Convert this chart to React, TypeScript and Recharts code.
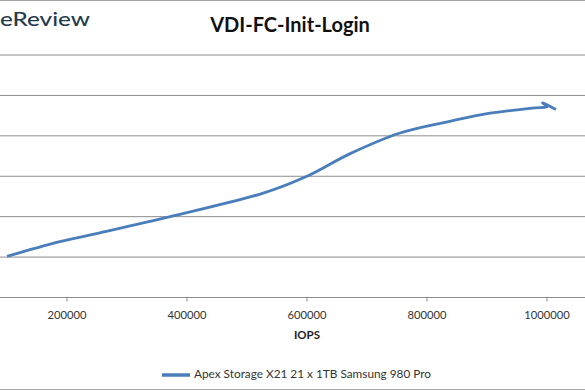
import React from 'react';
import { LineChart, Line, XAxis, YAxis, CartesianGrid, Legend } from 'recharts';

const SERIES_NAME = 'Apex Storage X21 21 x 1TB Samsung 980 Pro';
const iops = [100000, 188000, 255000, 372000, 522000, 600000, 672000, 755000, 838000, 905000, 980000, 1000000, 993000, 1015000];
const latency = [0.51, 0.69, 0.8, 1.0, 1.28, 1.5, 1.78, 2.035, 2.18, 2.28, 2.346, 2.358, 2.407, 2.327];
const xTicks = [200000, 400000, 600000, 800000, 1000000];
const yTicks = [0, 0.5, 1, 1.5, 2, 2.5, 3];

const data = iops.map((x, i) => ({ iops: x, latency: latency[i] }));

// Catmull-Rom style smoothing (similar to Excel's smoothed line)
const smoothCurve: any = (context: any) => {
  let pts: [number, number][] = [];
  return {
    areaStart() {},
    areaEnd() {},
    lineStart() {
      pts = [];
    },
    lineEnd() {
      const n = pts.length;
      if (!n) return;
      context.moveTo(pts[0][0], pts[0][1]);
      for (let i = 0; i < n - 1; i++) {
        const p0 = pts[Math.max(i - 1, 0)];
        const p1 = pts[i];
        const p2 = pts[i + 1];
        const p3 = pts[Math.min(i + 2, n - 1)];
        const t = 6;
        context.bezierCurveTo(
          p1[0] + (p2[0] - p0[0]) / t,
          p1[1] + (p2[1] - p0[1]) / t,
          p2[0] - (p3[0] - p1[0]) / t,
          p2[1] - (p3[1] - p1[1]) / t,
          p2[0],
          p2[1]
        );
      }
    },
    point(x: number, y: number) {
      pts.push([+x, +y]);
    },
  };
};

const FONT = 'Lato, "Open Sans", sans-serif';

export default function App() {
  return (
    <div
      style={{
        position: 'absolute',
        left: 0,
        top: 0,
        width: 585,
        height: 390,
        overflow: 'hidden',
        background: '#fff',
        fontFamily: FONT,
      }}
    >
      <div style={{ position: 'absolute', left: -53, top: 0 }}>
        <LineChart
          width={720}
          height={390}
          data={data}
          margin={{ top: 55, right: 0, bottom: 47.5, left: 0 }}
        >
          <CartesianGrid vertical={false} stroke="#8c8c8c" strokeWidth={1} />
          <XAxis
            dataKey="iops"
            type="number"
            domain={[0, 1200000]}
            ticks={xTicks}
            height={45}
            tickSize={4}
            tickMargin={9.5}
            stroke="#8c8c8c"
            tick={{ fill: '#333', fontSize: 11.2, fontFamily: FONT }}
            label={{
              value: 'IOPS',
              position: 'insideBottom',
              offset: 4,
              style: { fill: '#222', fontSize: 11.5, fontWeight: 700, fontFamily: FONT },
            }}
          />
          <YAxis type="number" domain={[0, 3]} ticks={yTicks} hide />
          <Legend
            verticalAlign="bottom"
            iconSize={28}
            wrapperStyle={{
              position: 'absolute',
              top: 361,
              bottom: 'auto',
              left: 62,
              width: 585,
              height: 0,
              fontSize: 11.8,
              fontFamily: FONT,
              color: '#333',
            }}
            formatter={(v: string) => <span style={{ color: '#333' }}>{v}</span>}
          />
          <Line
            name={SERIES_NAME}
            dataKey="latency"
            type={smoothCurve}
            stroke="#4a7ebb"
            strokeWidth={2.8}
            dot={false}
            activeDot={false}
            legendType="plainline"
            isAnimationActive={false}
          />
        </LineChart>
      </div>
      <svg
        width={585}
        height={390}
        style={{ position: 'absolute', left: 0, top: 0, pointerEvents: 'none' }}
      >
        <line x1={0} x2={585} y1={0.5} y2={0.5} stroke="#a6a6a6" strokeWidth={1} />
        <line x1={0} x2={585} y1={389.5} y2={389.5} stroke="#a6a6a6" strokeWidth={1} />
        <text
          x={0}
          y={26}
          fontSize={19.5}
          fontWeight={500}
          fill="#1f3b4d"
          fontFamily={FONT}
          textLength={90}
          lengthAdjust="spacingAndGlyphs"
        >
          eReview
        </text>
        <text
          x={290}
          y={31.5}
          textAnchor="middle"
          fontSize={20}
          fontWeight={700}
          fill="#111"
          fontFamily={FONT}
        >
          VDI-FC-Init-Login
        </text>
      </svg>
    </div>
  );
}
